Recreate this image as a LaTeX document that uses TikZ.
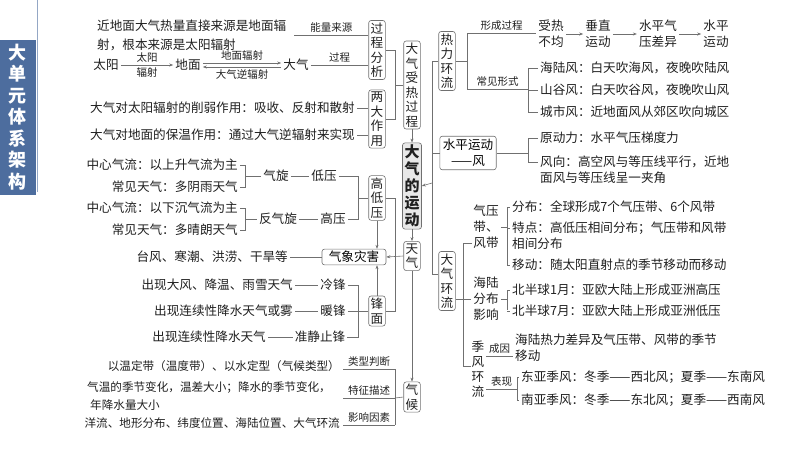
\documentclass[tikz,border=0pt]{standalone}
\usepackage{fontspec}
\setmainfont{Noto Sans CJK SC}
\usetikzlibrary{arrows.meta}
\newcommand\fa{\fontsize{12.6}{16}\selectfont}
\newcommand\fd{\fontsize{11.6}{16}\selectfont}
\newcommand\fb{\fontsize{10.5}{12}\selectfont}
\newcommand\fc{\fontsize{12.6}{14.5}\selectfont}
\definecolor{side}{HTML}{4D6D9E}
\definecolor{lnc}{HTML}{707070}
\begin{document}
\begin{tikzpicture}[x=1pt,y=-1pt,
  ln/.style={draw=lnc,line width=0.6pt},
  ar/.style={ln,-{Stealth[length=4pt,width=3pt]}},
  t/.style={inner sep=2pt,font=\fa,text=black!88,align=left},
  lb/.style={inner sep=1pt,font=\fb,text=black!88},
  vb/.style={draw=lnc,rounded corners=2.5pt,line width=0.6pt,inner sep=2pt,align=center,font=\fc,text=black!88}]
\useasboundingbox (0,0) rectangle (800,450);
% sidebar
\fill[side] (0,40) rectangle (36,195);
\node[text=white,font=\fontsize{18}{21.5}\selectfont\bfseries,align=center] (side) at (18,117) {大\\单\\元\\体\\系\\架\\构};
\draw[side!60,line width=0.8pt] (37,0) -- (37,192);
% centre column
\node[vb] (shou) at (412,85) {大\\气\\受\\热\\过\\程};
\node[vb,fill=gray!18,font=\fontsize{15}{17}\selectfont\bfseries] (yd) at (412,186) {大\\气\\的\\运\\动};
\node[vb] (tq) at (412,256) {天\\气};
\node[vb] (qh) at (412,397) {气\\候};
\draw[ar] (shou.south) -- (yd.north);
\draw[ar] (yd.south) -- (tq.north);
\draw[ar] (tq.south) -- (qh.north);
% heating process
\node[vb] (gcfx) at (377,50) {过\\程\\分\\析};
\node[vb] (ldzy) at (377,119) {两\\大\\作\\用};
\draw[ln] (gcfx.east) -- (395,50) -- (395,119) -- (ldzy.east);
\draw[ln] (395,85) -- (shou.west);
\node[t,anchor=west,font=\fontsize{12.6}{19}\selectfont] (ny) at (95,35) {近地面大气热量直接来源是地面辐\\射，根本来源是太阳辐射};
\draw[ln] ([xshift=6pt]ny.east) -- node[lb,above=1pt]{能量来源} (gcfx.west |- ny.east);
\node[t] (ty) at (106,65) {太阳};
\node[t] (dm) at (188,65) {地面};
\node[t] (dq) at (296,65) {大气};
\draw[ar] (ty.east) -- node[lb,above=1pt]{太阳} node[lb,below=1pt]{辐射} (dm.west);
\draw[ar] ([yshift=2pt]dm.east) -- node[lb,above=1pt]{地面辐射} ([yshift=2pt]dq.west);
\draw[ar] ([yshift=-2pt]dq.west) -- node[lb,below=1pt]{大气逆辐射} ([yshift=-2pt]dm.east);
\draw[ln] (dq.east) -- node[lb,above=1pt]{过程} (gcfx.west |- dq.east);
\node[t,anchor=east] (xr) at (357,108) {大气对太阳辐射的削弱作用：吸收、反射和散射};
\draw[ln] (xr.east) -- (ldzy.west |- xr.east);
\node[t,anchor=east] (bw) at (357,135) {大气对地面的保温作用：通过大气逆辐射来实现};
\draw[ln] (bw.east) -- (ldzy.west |- bw.east);
% high / low pressure
\node[vb] (gdy) at (377,198) {高\\低\\压};
\node[t,anchor=east] (zx1) at (240,165) {中心气流：以上升气流为主};
\node[t,anchor=east] (cj1) at (240,187) {常见天气：多阴雨天气};
\node[t] (qx) at (276,176) {气旋};
\node[t] (dy) at (324,176) {低压};
\draw[ln] (zx1.east) -- (245,165) -- (245,187) -- (cj1.east);
\draw[ln] (245,176) -- (qx.west);
\draw[ln] (qx.east) -- (dy.west);
\node[t,anchor=east] (zx2) at (240,208) {中心气流：以下沉气流为主};
\node[t,anchor=east] (cj2) at (240,230) {常见天气：多晴朗天气};
\node[t] (fqx) at (278,219) {反气旋};
\node[t] (gy) at (333,219) {高压};
\draw[ln] (zx2.east) -- (245,208) -- (245,230) -- (cj2.east);
\draw[ln] (245,219) -- (fqx.west);
\draw[ln] (fqx.east) -- (gy.west);
\draw[ln] (dy.east) -- (358,176) -- (358,219) -- (gy.east);
\draw[ln] (358,198) -- (gdy.west);
% disasters
\node[draw=lnc,rounded corners=2.5pt,line width=0.6pt,font=\fa,inner sep=2pt,minimum width=64pt] (zh) at (354,257) {气象灾害};
\node[t,anchor=east] (tf) at (290,257) {台风、寒潮、洪涝、干旱等};
\draw[ln] (tf.east) -- (zh.west);
\draw[ar] (tq.west) -- (zh.east);
\node[vb] (fm) at (377,311) {锋\\面};
\draw[ar] (gdy.south) -- (gdy.south |- zh.north);
\draw[ar] (fm.north) -- (fm.north |- zh.south);
\draw[ln] (gdy.east) -- (395,198) -- (395,311) -- (fm.east);
% fronts
\node[t] (lf) at (333,285) {冷锋};
\node[t] (nf) at (333,311) {暖锋};
\node[t] (zjz) at (320,337) {准静止锋};
\draw[ln] (lf.east) -- (358,285) -- (358,337) -- (zjz.east);
\draw[ln] (nf.east) -- (fm.west);
\node[t,anchor=east] (d1) at (295,285) {出现大风、降温、雨雪天气};
\node[t,anchor=east] (d2) at (295,311) {出现连续性降水天气或雾};
\node[t,anchor=east] (d3) at (268,337) {出现连续性降水天气};
\draw[ln] (d1.east) -- (lf.west);
\draw[ln] (d2.east) -- (nf.west);
\draw[ln] (d3.east) -- (zjz.west);
% climate
\node[t,anchor=east,font=\fd] (c1) at (342,366) {以温定带（温度带）、以水定型（气候类型）};
\node[t,anchor=west,font=\fd] (c2) at (85,388) {气温的季节变化，温差大小；降水的季节变化，};
\node[t,anchor=west,font=\fd] (c2b) at (88,405) {年降水量大小};
\node[t,anchor=east,font=\fd] (c3) at (342,423) {洋流、地形分布、纬度位置、海陆位置、大气环流};
\coordinate (k1) at (395,369);
\coordinate (k2) at (395,398);
\coordinate (k3) at (395,425);
\draw[ln] (343,369) -- node[lb,above=1pt]{类型判断} (k1);
\draw[ln] (343,398) -- node[lb,above=1pt]{特征描述} (k2);
\draw[ln] (343,425) -- node[lb,above=1pt]{影响因素} (k3);
\draw[ln] (k1) -- (k3);
\draw[ln] (k2) -- (qh.west);
% right side
\node[vb] (rl) at (447,61) {热\\力\\环\\流};
\node[draw=lnc,rounded corners=2.5pt,line width=0.6pt,font=\fa,align=center,inner sep=3pt] (spf) at (468,153) {水平运动\\——风};
\node[vb] (hl) at (447,281) {大\\气\\环\\流};
\draw[ln] (rl.west) -- (432,61) -- (432,274) -- (hl.west |- 0,274);
\draw[ln] (432,153) -- (spf.west);
\draw[ar] (432,183) -- (yd.east);
% thermal circulation
\draw[ln] (rl.east) -- (467,61);
\draw[ln] (467,33) -- (467,89);
\node[t,align=center] (sr) at (551,34) {受热\\不均};
\node[t,align=center] (cz) at (598,34) {垂直\\运动};
\node[t,align=center] (sq) at (658,34) {水平气\\压差异};
\node[t,align=center] (sy) at (716,34) {水平\\运动};
\draw[ln] (467,33) -- node[lb,above=1pt]{形成过程} (sr.west |- 0,33);
\draw[ar] (sr.east) -- (cz.west);
\draw[ar] (cz.east) -- (sq.west);
\draw[ar] (sq.east) -- (sy.west);
\draw[ln] (467,89) -- node[lb,above=1pt]{常见形式} (528,89);
\draw[ln] (528,68) -- (528,112);
\node[t,anchor=west] (hlf) at (538,68) {海陆风：白天吹海风，夜晚吹陆风};
\node[t,anchor=west] (sgf) at (538,90) {山谷风：白天吹谷风，夜晚吹山风};
\node[t,anchor=west] (csf) at (538,112) {城市风：近地面风从郊区吹向城区};
\draw[ln] (528,68) -- (hlf.west);
\draw[ln] (528,90) -- (sgf.west);
\draw[ln] (528,112) -- (csf.west);
% wind
\draw[ln] (spf.east) -- (528,153);
\draw[ln] (528,138) -- (528,162);
\node[t,anchor=west] (ydl) at (538,138) {原动力：水平气压梯度力};
\node[t,anchor=west] (fx) at (538,170) {风向：高空风与等压线平行，近地\\面风与等压线呈一夹角};
\draw[ln] (528,138) -- (ydl.west);
\draw[ln] (528,162) -- (fx.west |- 0,162);
% general circulation
\node[t,align=center] (qyd) at (486,227) {气压\\带、\\风带};
\node[t,align=center] (hlfb) at (486,299) {海陆\\分布\\影响};
\node[t,align=center,font=\fontsize{12.6}{15}\selectfont] (jf) at (478,369) {季\\风\\环\\流};
\draw[ln] (hl.east |- hlfb.west) -- (hlfb.west);
\draw[ln] (463,243) -- (463,366);
\draw[ln] (463,243) -- (472,243);
\draw[ln] (463,366) -- (471,366);
\draw[ln] (qyd.east) -- (507,227);
\draw[ln] (507,207) -- (507,265);
\node[t,anchor=west] (fb) at (510,207) {分布：全球形成7个气压带、6个风带};
\node[t,anchor=west] (td) at (510,236) {特点：高低压相间分布；气压带和风带\\相间分布};
\node[t,anchor=west] (yd2) at (510,265) {移动：随太阳直射点的季节移动而移动};
\draw[ln] (507,207) -- (fb.west);
\draw[ln] (507,228) -- (td.west |- 0,228);
\draw[ln] (507,265) -- (yd2.west);
\draw[ln] (hlfb.east) -- (507,299);
\draw[ln] (507,290) -- (507,310);
\node[t,anchor=west] (b1) at (510,290) {北半球1月：亚欧大陆上形成亚洲高压};
\node[t,anchor=west] (b7) at (510,311) {北半球7月：亚欧大陆上形成亚洲低压};
\draw[ln] (507,290) -- (b1.west);
\draw[ln] (507,311) -- (b7.west);
\node[t,anchor=west] (cy) at (513,348) {海陆热力差异及气压带、风带的季节\\移动};
\draw[ln] (486,356) -- node[lb,above=1pt]{成因} (cy.west |- 0,356);
\draw[ln] (486,389) -- node[lb,above=1pt]{表现} (517,389);
\draw[ln] (517,377) -- (517,400);
\node[t,anchor=west] (dy2) at (519,377) {东亚季风：冬季——西北风；夏季——东南风};
\node[t,anchor=west] (ny2) at (519,400) {南亚季风：冬季——东北风；夏季——西南风};
\draw[ln] (517,377) -- (dy2.west);
\draw[ln] (517,400) -- (ny2.west);
\end{tikzpicture}
\end{document}
